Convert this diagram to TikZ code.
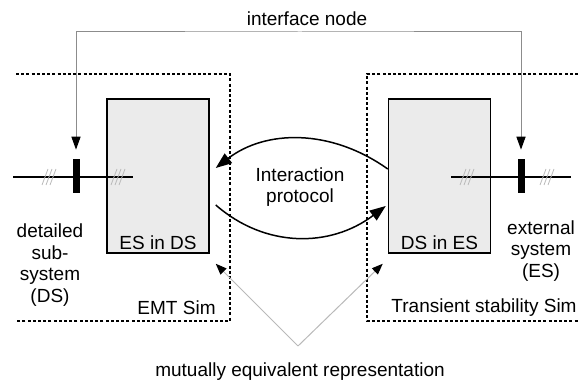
\documentclass[tikz,border=0pt]{standalone}
\usepackage{fontspec}
\setmainfont{Liberation Sans}
\usetikzlibrary{arrows.meta}
\definecolor{box_fill}{HTML}{EBEBEB}
\definecolor{iface_gray}{HTML}{8C8C8C}
\definecolor{equiv_gray}{HTML}{B9B9B9}
\newcommand{\lblfont}{\fontsize{9.5}{10.8}\selectfont}

\tikzset{
    sysbox/.style={draw, line width=0.75pt, fill=box_fill, minimum width=51pt, minimum height=77pt, inner sep=0pt},
    busbar/.style={fill=black, minimum width=3.5pt, minimum height=17pt, inner sep=0pt},
    simframe/.style={line width=1pt, dash pattern=on 1.5pt off 1.1pt},
    busline/.style={line width=0.75pt},
    ifacearrow/.style={line width=0.5pt, iface_gray, {Triangle[color=black,length=6.5pt,width=4.6pt]}-{Triangle[color=black,length=6.5pt,width=4.6pt]}},
    protoarrow/.style={line width=0.75pt, -{Triangle[length=8pt,width=6pt]}},
    equivarrow/.style={line width=0.5pt, equiv_gray, -{Triangle[color=black,length=5.5pt,width=4.2pt]}},
    hashes/.pic={
        \foreach \i in {-4,0,4}
            \draw[equiv_gray, line width=0.4pt] (\i-3,-8) -- (\i+3,8);
    }
}

\begin{document}
\begin{tikzpicture}[x=0.5pt, y=0.5pt, every node/.style={font=\lblfont}]
    \useasboundingbox (0,0) rectangle (578,-383);

    % simulator frames
    \draw[simframe] (16,-74) -- (230,-74) -- (230,-321) -- (16,-321);
    \draw[simframe] (578,-74) -- (367,-74) -- (367,-321) -- (578,-321);

    \node[sysbox] (esds) at (158,-176) {};
    \node[sysbox] (dses) at (439.5,-176) {};
    \node (esdslbl) at (158,-243) {ES in DS};
    \node (dseslbl) at (439.5,-243) {DS in ES};

    % network sides
    \coordinate (lbusw) at (13,-177);
    \coordinate (lbuse) at (133,-177);
    \coordinate (rbusw) at (451,-177);
    \coordinate (rbuse) at (571,-177);
    \draw[busline] (lbusw) -- (lbuse);
    \draw[busline] (rbusw) -- (rbuse);
    \pic at (49,-177) {hashes};
    \pic at (118,-177) {hashes};
    \pic at (467,-177) {hashes};
    \pic at (547,-177) {hashes};

    \node[busbar] (lbar) at (76,-176) {};
    \node[busbar] (rbar) at (521,-176) {};

    % interface node
    \node (ifn) at (307,-19) {interface node};
    \coordinate (itop) at (300,-32);
    \draw[ifacearrow, shorten <=4.5pt, shorten >=4.5pt] (lbar.north) |- (itop) -| (rbar.north);

    % interaction protocol
    \node[align=center] (proto) at (300,-187) {Interaction\\protocol};
    \draw[protoarrow] ([yshift=3.5pt]dses.west) .. controls (330,-128) and (265,-130) .. ([xshift=3pt,yshift=4pt]esds.east);
    \draw[protoarrow] ([xshift=3pt,yshift=-14.5pt]esds.east) .. controls (265,-248) and (330,-248) .. ([xshift=-1pt,yshift=-15pt]dses.west);

    % side labels
    \node[align=center] (dslbl) at (50,-265) {detailed\\sub-\\system\\(DS)};
    \node[align=center] (eslbl) at (541,-251) {external\\system\\(ES)};
    \node[anchor=east, inner sep=0pt] (emtlbl) at (216,-308) {EMT Sim};
    \node[anchor=east, inner sep=0pt] (tslbl) at (577,-308) {Transient stability Sim};

    % equivalent representation
    \node (eqlbl) at (300,-372) {mutually equivalent representation};
    \coordinate (apex) at (298,-346);
    \draw[equivarrow] (apex) -- ([xshift=3pt,yshift=-5pt]esds.south east);
    \draw[equivarrow] (apex) -- ([xshift=-2.5pt,yshift=-5pt]dses.south west);
\end{tikzpicture}
\end{document}
